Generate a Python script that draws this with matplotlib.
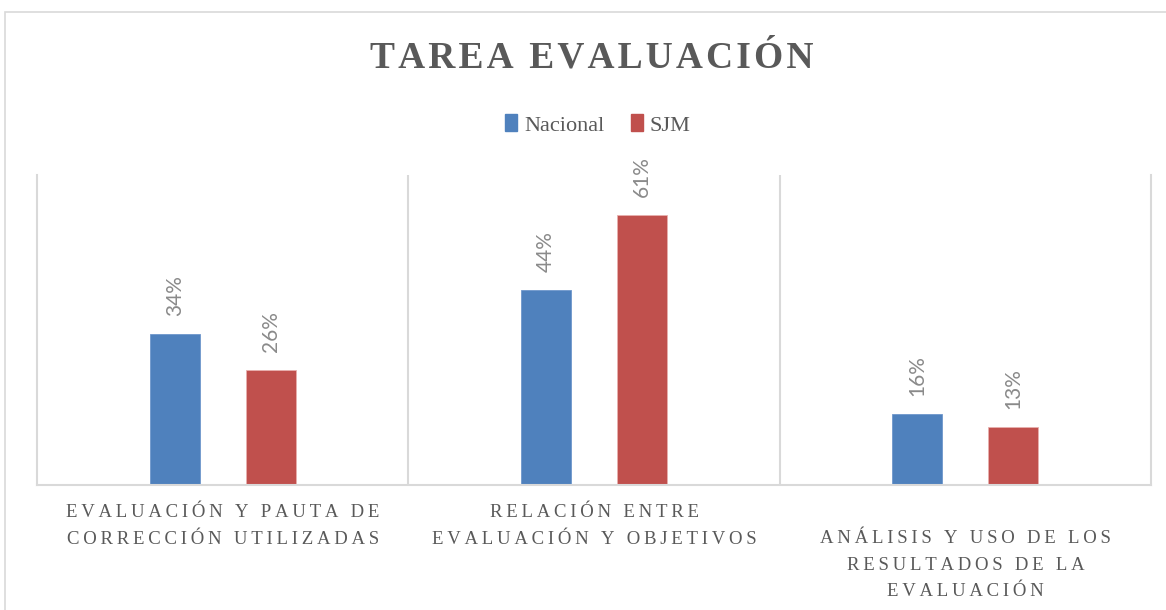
import numpy as np
import matplotlib.pyplot as plt
from matplotlib.patches import Rectangle, Patch

# datos del grafico
categorias = ["EVALUACIÓN Y PAUTA DE\nCORRECCIÓN UTILIZADAS",
              "RELACIÓN ENTRE\nEVALUACIÓN Y OBJETIVOS",
              "ANÁLISIS Y USO DE LOS\nRESULTADOS DE LA\nEVALUACIÓN"]
nacional = [0.34, 0.44, 0.16]
sjm = [0.26, 0.61, 0.13]
series = ["Nacional", "SJM"]

azul = "#4F81BD"
rojo = "#C0504D"
gris = "#595959"
linea = "#D9D9D9"
serif = ["Liberation Serif", "DejaVu Serif"]


def spaced(s, sep="\u2009"):
    # separa las letras para imitar el espaciado del original
    return "\n".join(sep.join(list(l)) for l in s.split("\n"))


fig = plt.figure(figsize=(11.66, 6.10), dpi=100)
ax = fig.add_axes([37 / 1166, 1 - 485 / 610, 1114 / 1166, 310 / 610])

# marco exterior del grafico
fig.patches.append(Rectangle((5 / 1166, -0.1), 1.2, 1 - 12 / 610 + 0.1,
                             transform=fig.transFigure, fill=False,
                             edgecolor=linea, linewidth=1.2))

x = np.arange(len(categorias))
w = 0.135
off = 0.129
b1 = ax.bar(x - off, nacional, w, color=azul, edgecolor="#6f97cc", linewidth=0.6)
b2 = ax.bar(x + off, sjm, w, color=rojo, edgecolor="#e8b0ae", linewidth=0.6)

for bars, vals in ((b1, nacional), (b2, sjm)):
    for r, v in zip(bars, vals):
        ax.annotate("{:.0f}%".format(v * 100),
                    (r.get_x() + r.get_width() / 2, r.get_height()),
                    xytext=(0, 13), textcoords="offset points",
                    rotation=90, ha="center", va="bottom",
                    fontsize=15, color="#8a8a8a", family=["Lato", "DejaVu Sans"])

ax.set_xlim(-0.5, 2.5)
ax.set_ylim(0, 0.7)
ax.set_yticks([])
ax.set_xticks([])
for xb in [0.5, 1.5]:
    ax.axvline(xb, color=linea, linewidth=1.5, zorder=0)
ax.spines["top"].set_visible(False)
for s in ("left", "right", "bottom"):
    ax.spines[s].set_color(linea)
    ax.spines[s].set_linewidth(1.5)

# etiquetas de categorias
pads = [19, 19, 45]
for xi, lab, p in zip(x, categorias, pads):
    ax.annotate(spaced(lab), (xi, 0), xycoords=("data", "axes fraction"),
                xytext=(0, -p), textcoords="offset pixels",
                ha="center", va="top", multialignment="center",
                fontsize=13.5, color=gris, linespacing=1.75, family=serif)

fig.text(592 / 1166, 1 - 58 / 610, spaced("TAREA EVALUACIÓN", "\u200a"),
         ha="center", va="center", fontsize=27, fontweight="bold",
         color=gris, family=serif)

handles = [Patch(color=azul), Patch(color=rojo)]
fig.legend(handles, series, loc="center", bbox_to_anchor=(598 / 1166, 1 - 125 / 610),
           ncol=2, frameon=False, handlelength=0.55, handleheight=0.8,
           handletextpad=0.3, columnspacing=1.2,
           prop={"family": serif, "size": 16},
           labelcolor=gris)

fig.savefig("out.png", dpi=100)
